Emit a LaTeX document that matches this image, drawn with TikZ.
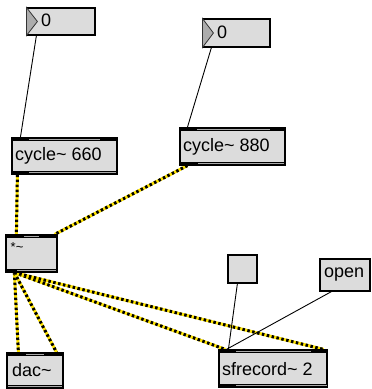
\documentclass[tikz,border=0pt]{standalone}
\usepackage{fontspec}
\setmainfont{Liberation Sans}
\usetikzlibrary{calc}
\definecolor{boxgray}{RGB}{220,220,220}
\definecolor{stripgray}{RGB}{170,170,170}
\definecolor{sigyellow}{RGB}{255,228,0}
\pgfdeclarelayer{bg}
\pgfsetlayers{bg,main}
\newcommand\objdeco[5]{%
 \fill[black] (#1.north west) rectangle ($(#1.north east)+(0,4)$);
 \fill[black] ($(#1.south west)+(0,-4)$) rectangle (#1.south east);
 \fill[stripgray] ($(#1.north west)+(#2,1.3)$) rectangle ($(#1.north east)+(-#3,2.7)$);
 \fill[stripgray] ($(#1.south west)+(#4,-2.7)$) rectangle ($(#1.south east)+(-#5,-1.3)$);
}
\newcommand\numtri[1]{%
 \filldraw[fill=gray!65, draw=gray!40!black, line width=0.8pt] (#1.north west) -- ($(#1.west)+(11,0)$) -- (#1.south west) -- cycle;
}
\newcommand\sigline[2]{%
 \draw[sigbase] #1 -- #2;
 \draw[sigdash] #1 -- #2;
}
\begin{document}
\begin{tikzpicture}[x=1pt,y=-1pt,
  box/.style={draw=black, line width=1.2pt, fill=boxgray, inner sep=0pt},
  lbl/.style={font=\fontsize{18}{18}\selectfont, inner sep=0pt, anchor=west},
  ctrl/.style={draw=black, line width=0.9pt},
  sigbase/.style={draw=sigyellow, line width=3pt},
  sigdash/.style={draw=black, line width=3pt, dash pattern=on 2.5pt off 2.5pt}]
\useasboundingbox (0,0) rectangle (372,389);

% number boxes
\node[box, minimum width=68, minimum height=27] (nb1) at (61,21.5) {};
\numtri{nb1}
\node[lbl] (nb1t) at (41,20) {0};
\node[box, minimum width=67, minimum height=28] (nb2) at (236.5,33) {};
\numtri{nb2}
\node[lbl] (nb2t) at (217,32) {0};

% objects
\node[box, minimum width=105, minimum height=36] (c660) at (64.5,156) {};
\objdeco{c660}{18}{18}{18}{2}
\node[lbl] (c660t) at (15,156) {cycle\textasciitilde{} 660};

\node[box, minimum width=105, minimum height=37] (c880) at (232.5,146.5) {};
\objdeco{c880}{18}{16}{19}{2}
\node[lbl] (c880t) at (183,147) {cycle\textasciitilde{} 880};

\node[box, minimum width=51, minimum height=37] (mul) at (31.5,253.5) {};
\objdeco{mul}{19}{19}{12}{2}
\node[lbl, font=\fontsize{13}{13}\selectfont, anchor=north west] (mult) at (10.5,242) {*\textasciitilde};

\node[box, minimum width=56, minimum height=35] (dac) at (35,370.5) {};
\objdeco{dac}{20}{20}{2}{2}
\node[lbl] (dact) at (12,370) {dac\textasciitilde};

\node[box, minimum width=108, minimum height=37] (sfr) at (273,368.5) {};
\objdeco{sfr}{18}{17}{18}{1}
\node[lbl] (sfrt) at (222,369) {sfrecord\textasciitilde{} 2};

% toggle and message
\node[box, minimum width=29, minimum height=28] (tog) at (242.5,269) {};
\node[box, minimum width=50, minimum height=32] (open) at (345,275) {};
\node[lbl] (opent) at (324,275) {open};

\begin{pgfonlayer}{bg}
\draw[ctrl] ($(nb1.south west)+(10,0)$) -- ($(c660.north west)+(9,0)$);
\draw[ctrl] ($(nb2.south west)+(9,0)$) -- ($(c880.north west)+(8,0)$);
\sigline{($(c660.south west)+(6,0)$)}{($(mul.north west)+(11,0)$)}
\sigline{($(c880.south west)+(8,0)$)}{($(mul.north east)+(-3,0)$)}
\sigline{($(mul.south west)+(9,0)$)}{($(dac.north west)+(12,0)$)}
\sigline{($(mul.south west)+(9,0)$)}{($(dac.north east)+(-7,0)$)}
\sigline{($(mul.south west)+(9,0)$)}{($(sfr.north west)+(7,0)$)}
\sigline{($(mul.south west)+(9,0)$)}{($(sfr.north east)+(-4,0)$)}
\draw[ctrl] ($(tog.south west)+(10,0)$) -- ($(sfr.north west)+(10,0)$);
\draw[ctrl] ($(open.south west)+(12,0)$) -- ($(sfr.north west)+(8,0)$);
\end{pgfonlayer}
\end{tikzpicture}
\end{document}
